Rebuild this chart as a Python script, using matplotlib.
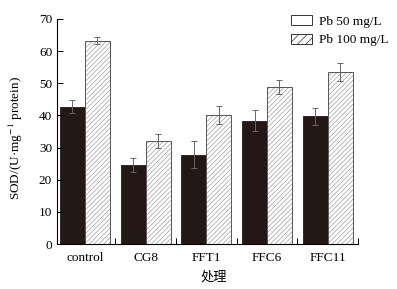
import numpy as np
import matplotlib
matplotlib.use('Agg')
import matplotlib.pyplot as plt
from matplotlib.patches import Patch

plt.rcParams['font.family'] = ['Liberation Serif', 'Noto Sans CJK SC']
plt.rcParams['mathtext.fontset'] = 'stix'
plt.rcParams['hatch.linewidth'] = 0.5

groups = ['control', 'CG8', 'FFT1', 'FFC6', 'FFC11']
pb50 = [42.7, 24.5, 27.8, 38.4, 39.7]
pb50_err = [2.1, 2.2, 4.2, 3.2, 2.6]
pb100 = [63.2, 32.1, 40.1, 48.8, 53.6]
pb100_err = [1.1, 2.2, 2.8, 2.2, 2.8]
series_names = ['Pb 50 mg/L', 'Pb 100 mg/L']

dark = '#231815'
x = np.arange(len(groups))
w = 0.41

fig = plt.figure(figsize=(3.97, 2.89), dpi=100)
ax = fig.add_axes([0.1436, 0.1557, 0.7584, 0.7786])

# first series: solid dark bars
ax.bar(x - w / 2, pb50, w, color=dark, edgecolor=dark, linewidth=0.6)
ax.errorbar(x - w / 2, pb50, yerr=pb50_err, fmt='none', ecolor='#666666',
            elinewidth=0.7, capsize=2.5, capthick=0.7)

# second series: grey hatch, then an outline on top
ax.bar(x + w / 2, pb100, w, color='white', edgecolor='#a0a0a0',
       hatch='///////', linewidth=0)
ax.bar(x + w / 2, pb100, w, color='none', edgecolor='#555555', linewidth=0.7)
ax.errorbar(x + w / 2, pb100, yerr=pb100_err, fmt='none', ecolor='#666666',
            elinewidth=0.7, capsize=2.5, capthick=0.7)

ax.set_xlim(-0.46, 4.5)
ax.set_ylim(0, 70)
ax.set_yticks(np.arange(0, 71, 10))
ax.set_xticks(x)
ax.set_xticklabels(groups, fontsize=9.5)
ax.set_xticks(x + 0.5, minor=True)
ax.tick_params(axis='x', which='major', length=0, pad=6)
ax.tick_params(axis='x', which='minor', direction='in', length=4, width=0.7)
ax.tick_params(axis='y', direction='in', length=4, width=0.7, labelsize=9.5)

for s in ['top', 'right']:
    ax.spines[s].set_visible(False)
for s in ['left', 'bottom']:
    ax.spines[s].set_linewidth(0.8)

ax.set_ylabel('SOD/(U·mg$^{-1}$ protein)', fontsize=9.5)
ax.yaxis.set_label_coords(-0.105, 0.47)
ax.set_xlabel('处理', fontsize=9.5)
ax.xaxis.set_label_coords(0.52, -0.12)

handles = [Patch(facecolor='white', edgecolor='#333333', linewidth=0.7),
           Patch(facecolor='white', edgecolor='#333333', hatch='////', linewidth=0.7)]
ax.legend(handles, series_names, loc='upper right', bbox_to_anchor=(1.14, 1.07),
          frameon=False, fontsize=9.5, handlelength=1.6, handleheight=0.8,
          labelspacing=0.45, handletextpad=0.5)

fig.savefig('out.png', dpi=100)
